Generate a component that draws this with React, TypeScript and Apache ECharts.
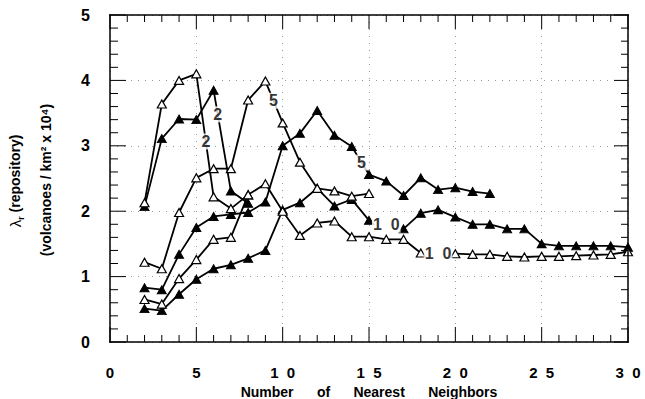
import React, { useEffect, useRef } from "react";
import * as echarts from "echarts";

// Recurrence rate at the repository vs. number of nearest neighbours (k starts at 2).
const FIRST_K = 2;
const open2 = [2.13, 3.64, 4.0, 4.1, 2.22, 2.04, 2.25];
const filled2 = [2.07, 3.11, 3.41, 3.4, 3.85, 2.31, 2.12];
const open5 = [1.22, 1.12, 1.98, 2.51, 2.65, 2.65, 3.7, 3.99, 3.35, 2.75, 2.35, 2.31, 2.23, 2.27];
const filled5 = [
  0.83, 0.8, 1.34, 1.75, 1.92, 1.95, 1.98, 2.14, 3.0, 3.19, 3.54, 3.16, 2.99, 2.56, 2.46, 2.24,
  2.51, 2.33, 2.36, 2.3, 2.27,
];
const open10 = [
  0.65, 0.58, 0.97, 1.26, 1.57, 1.6, 2.25, 2.42, 2.0, 1.63, 1.82, 1.85, 1.61, 1.61, 1.57, 1.57,
  1.36, null, 1.35, 1.34, 1.34, 1.31, 1.3, 1.31, 1.31, 1.32, 1.33, 1.34, 1.38,
];
const filled10 = [
  0.51, 0.48, 0.73, 0.96, 1.12, 1.18, 1.28, 1.4, 2.02, 2.13, 2.35, 2.08, 2.18, 1.86, null, 1.73,
  1.97, 2.02, 1.91, 1.8, 1.8, 1.73, 1.73, 1.5, 1.47, 1.47, 1.47, 1.47, 1.45,
];
const X_MIN = 0;
const X_MAX = 30;
const X_STEP = 5;
const X_MINOR = 1;
const Y_MIN = 0;
const Y_MAX = 5;
const Y_STEP = 1;
const Y_MINOR = 0.2;

const WIDTH = 645;
const HEIGHT = 399;
const GRID = { left: 110, right: 17, top: 15, bottom: 57 };

const FONT = '"Liberation Sans", Arial, Helvetica, sans-serif';

const toPairs = (ys: (number | null)[]) =>
  ys.map((y, i) => [FIRST_K + i, y === null ? "-" : y]);

// point a fraction t of the way along the segment starting at neighbour count k
const along = (ys: (number | null)[], k: number, t: number) => {
  const i = k - FIRST_K;
  const a = ys[i] as number;
  const b = ys[i + 1] as number;
  return [k + t, a + (b - a) * t];
};
// middle of a gap left for a label
const gapMid = (ys: (number | null)[], k: number) => {
  const i = k - FIRST_K;
  return [k, ((ys[i - 1] as number) + (ys[i + 1] as number)) / 2];
};

// digits set apart the way the plot lettering does it
const spaced = (v: number | string) => String(v).split("").join("  ");

const near = (a: number, b: number) => Math.abs(a - b) < 1e-6;
const isMajor = (v: number, step: number) => near(v / step, Math.round(v / step));

const openStyle = {
  symbol: "triangle",
  symbolSize: [9, 8],
  itemStyle: { color: "#fff", borderColor: "#000", borderWidth: 1.2 },
};
const filledStyle = {
  symbol: "triangle",
  symbolSize: [9, 8],
  itemStyle: { color: "#000", borderColor: "#000", borderWidth: 1 },
};

const makeLine = (name: string, ys: (number | null)[], marker: any) => ({
  name,
  type: "line",
  data: toPairs(ys),
  showSymbol: true,
  showAllSymbol: true,
  connectNulls: false,
  lineStyle: { color: "#000", width: 1.8 },
  z: 3,
  ...marker,
});

const curveLabels = [
  { text: "2", pos: along(open2, 5, 0.55) },
  { text: "2", pos: along(filled2, 6, 0.24) },
  { text: "5", pos: along(open5, 9, 0.47) },
  { text: "5", pos: along(filled5, 14, 0.57) },
  { text: spaced(10), pos: gapMid(filled10, 16) },
  { text: spaced(10), pos: gapMid(open10, 19) },
];

const boldText = { fontFamily: FONT, fontWeight: "bold", color: "#000" };
const gridDots = { show: true, lineStyle: { color: "#999", type: [1, 6], width: 1 } };

const axisTitles = [
  {
    type: "text",
    x: 15,
    y: 181,
    rotation: Math.PI / 2,
    style: {
      text: "{l|λ}{s|r}{b| (repository)}",
      align: "center",
      verticalAlign: "middle",
      rich: {
        l: { fontFamily: FONT, fontSize: 15, color: "#000", lineHeight: 20 },
        s: {
          fontFamily: FONT,
          fontSize: 9,
          fontWeight: "bold",
          color: "#000",
          lineHeight: 20,
          verticalAlign: "bottom",
        },
        b: { fontFamily: FONT, fontSize: 14, fontWeight: "bold", color: "#000", lineHeight: 20 },
      },
    },
  },
  {
    type: "text",
    x: 46,
    y: 180,
    rotation: Math.PI / 2,
    style: {
      text: "(volcanoes / km² x 10⁴)",
      align: "center",
      verticalAlign: "middle",
      fontFamily: FONT,
      fontSize: 14,
      fontWeight: "bold",
      fill: "#000",
    },
  },
];

// frame and inward ticks as thin filled bars, placed with the chart's own scales
function frameAndTicks(chart: echarts.ECharts) {
  const px = (x: number, y: number) =>
    chart.convertToPixel({ gridIndex: 0 }, [x, y]) as number[];
  const [l, b] = px(X_MIN, Y_MIN);
  const [r, t] = px(X_MAX, Y_MAX);
  const out: any[] = [];
  const bar = (x: number, y: number, w: number, h: number) =>
    out.push({
      type: "rect",
      silent: true,
      z: 10,
      shape: { x, y, width: w, height: h },
      style: { fill: "#000", stroke: null },
    });
  const fw = 1.5;
  bar(l - fw / 2, t - fw / 2, r - l + fw, fw);
  bar(l - fw / 2, b - fw / 2, r - l + fw, fw);
  bar(l - fw / 2, t - fw / 2, fw, b - t + fw);
  bar(r - fw / 2, t - fw / 2, fw, b - t + fw);
  for (let i = 0; X_MIN + i * X_MINOR <= X_MAX + 1e-9; i++) {
    const v = X_MIN + i * X_MINOR;
    const major = isMajor(v, X_STEP);
    const [xp] = px(v, Y_MIN);
    const lb = major ? 15 : 7;
    const lt = major ? 14 : 7;
    bar(xp - 0.5, b - lb, 1, lb);
    bar(xp - 0.5, t, 1, lt);
  }
  for (let i = 0; Y_MIN + i * Y_MINOR <= Y_MAX + 1e-9; i++) {
    const v = Y_MIN + i * Y_MINOR;
    const major = isMajor(v, Y_STEP);
    const [, yp] = px(X_MIN, v);
    const ll = major ? 16 : 8;
    const lr = major ? 14 : 7;
    bar(l, yp - 0.5, ll, 1);
    bar(r - lr, yp - 0.5, lr, 1);
  }
  return out;
}

export default function App() {
  const ref = useRef<HTMLDivElement>(null);
  useEffect(() => {
    if (!ref.current) return;
    const chart = echarts.init(ref.current, null, { renderer: "svg" });
    chart.setOption({
      animation: false,
      grid: { ...GRID, containLabel: false, outerBoundsMode: "none" },
      xAxis: {
        type: "value",
        min: X_MIN,
        max: X_MAX,
        interval: X_STEP,
        axisLine: { show: false },
        axisTick: { show: false },
        axisLabel: {
          ...boldText,
          formatter: (v: number) => spaced(v),
          fontSize: 15,
          margin: 23,
        },
        splitLine: gridDots,
        name: "Number      of      Nearest      Neighbors",
        nameLocation: "middle",
        nameGap: 40,
        nameTextStyle: { ...boldText, fontSize: 14 },
      },
      yAxis: {
        type: "value",
        min: Y_MIN,
        max: Y_MAX,
        interval: Y_STEP,
        axisLine: { show: false },
        axisTick: { show: false },
        axisLabel: { ...boldText, fontSize: 16, margin: 20 },
        splitLine: gridDots,
      },
      series: [
        makeLine("filled 10", filled10, filledStyle),
        makeLine("open 10", open10, openStyle),
        makeLine("filled 5", filled5, filledStyle),
        makeLine("open 5", open5, openStyle),
        makeLine("filled 2", filled2, filledStyle),
        makeLine("open 2", open2, openStyle),
        {
          name: "curve labels",
          type: "scatter",
          symbolSize: 0,
          z: 5,
          data: curveLabels.map((c) => ({ value: c.pos, name: c.text })),
          label: {
            show: true,
            position: "inside",
            formatter: (p: any) => p.name,
            ...boldText,
            fontSize: 16,
            backgroundColor: "#fff",
            padding: [0, 1],
          },
        },
      ],
    });
    chart.setOption({ graphic: [...axisTitles, ...frameAndTicks(chart)] });
    return () => chart.dispose();
  }, []);
  return (
    <div
      ref={ref}
      style={{ position: "absolute", left: 0, top: 0, width: WIDTH, height: HEIGHT, background: "#fff" }}
    />
  );
}
